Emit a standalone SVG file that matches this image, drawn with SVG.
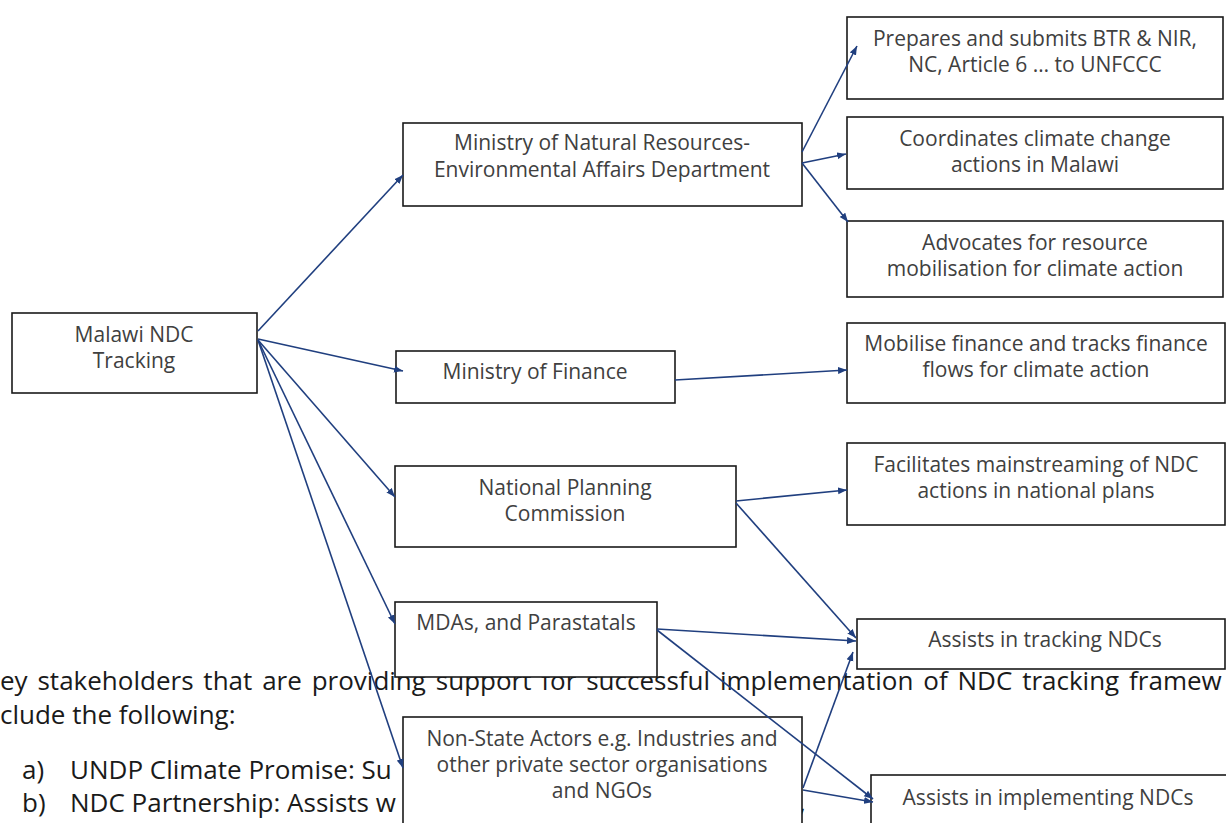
<svg xmlns="http://www.w3.org/2000/svg" width="1226" height="823" viewBox="0 0 1226 823">
<defs>
<style>
.bg{font-family:"Open Sans","Noto Sans","Liberation Sans",sans-serif;font-size:26px;fill:#1a1a1a;}
.box{fill:#ffffff;stroke:#1a1a1a;stroke-width:1.6;}
.lbl{font-family:"Open Sans","Noto Sans","Liberation Sans",sans-serif;font-size:21px;fill:#404040;text-anchor:middle;}
.con{stroke:#203f7f;stroke-width:1.6;fill:none;marker-end:url(#ah);}
</style>
<marker id="ah" markerWidth="10" markerHeight="8" refX="9" refY="4" orient="auto" markerUnits="userSpaceOnUse">
<path d="M0,0.5 L9,4 L0,7.5 z" fill="#203f7f"/>
</marker>
</defs>
<rect x="0" y="0" width="1226" height="823" fill="#ffffff"/>
<g id="background-text">
<text class="bg" x="0" y="690" word-spacing="3.1">ey stakeholders that are providing support for successful implementation of NDC tracking framew</text>
<text class="bg" x="0" y="724">clude the following:</text>
<text class="bg" x="22" y="779">a)</text>
<text class="bg" x="70" y="779">UNDP Climate Promise: Su</text>
<text class="bg" x="22" y="812">b)</text>
<text class="bg" x="70" y="812">NDC Partnership: Assists w</text>
<text class="bg" x="799" y="812">,</text>
</g>
<g id="node-malawi">
<rect class="box" x="12" y="313" width="245" height="80"/>
<text class="lbl" x="134" y="342">Malawi NDC</text>
<text class="lbl" x="134" y="368">Tracking</text>
</g>
<g id="node-ministry-nr">
<rect class="box" x="403" y="123" width="399" height="83"/>
<text class="lbl" x="602" y="150">Ministry of Natural Resources-</text>
<text class="lbl" x="602" y="177">Environmental Affairs Department</text>
</g>
<g id="node-prepares">
<rect class="box" x="847" y="17" width="376" height="82"/>
<text class="lbl" x="1035" y="46">Prepares and submits BTR &amp; NIR,</text>
<text class="lbl" x="1035" y="72">NC, Article 6 … to UNFCCC</text>
</g>
<g id="node-coordinates">
<rect class="box" x="847" y="117" width="376" height="72"/>
<text class="lbl" x="1035" y="146">Coordinates climate change</text>
<text class="lbl" x="1035" y="172">actions in Malawi</text>
</g>
<g id="node-advocates">
<rect class="box" x="847" y="221" width="376" height="76"/>
<text class="lbl" x="1035" y="250">Advocates for resource</text>
<text class="lbl" x="1035" y="276">mobilisation for climate action</text>
</g>
<g id="node-finance">
<rect class="box" x="396" y="351" width="279" height="52"/>
<text class="lbl" x="535" y="379">Ministry of Finance</text>
</g>
<g id="node-mobilise">
<rect class="box" x="847" y="323" width="378" height="80"/>
<text class="lbl" x="1036" y="351">Mobilise finance and tracks finance</text>
<text class="lbl" x="1036" y="377">flows for climate action</text>
</g>
<g id="node-npc">
<rect class="box" x="395" y="466" width="341" height="81"/>
<text class="lbl" x="565" y="495">National Planning</text>
<text class="lbl" x="565" y="521">Commission</text>
</g>
<g id="node-facilitates">
<rect class="box" x="847" y="443" width="378" height="82"/>
<text class="lbl" x="1036" y="472">Facilitates mainstreaming of NDC</text>
<text class="lbl" x="1036" y="498">actions in national plans</text>
</g>
<g id="node-mdas">
<rect class="box" x="395" y="602" width="262" height="75"/>
<text class="lbl" x="526" y="630">MDAs, and Parastatals</text>
</g>
<g id="node-tracking">
<rect class="box" x="857" y="619" width="368" height="50"/>
<text class="lbl" x="1045" y="647">Assists in tracking NDCs</text>
</g>
<g id="node-nonstate">
<rect class="box" x="403" y="717" width="399" height="120"/>
<text class="lbl" x="602" y="746">Non-State Actors e.g. Industries and</text>
<text class="lbl" x="602" y="772">other private sector organisations</text>
<text class="lbl" x="602" y="798">and NGOs</text>
</g>
<g id="node-implementing">
<rect class="box" x="871" y="775" width="360" height="60"/>
<text class="lbl" x="1048" y="805">Assists in implementing NDCs</text>
</g>
<g id="connectors">
<path class="con" d="M258,331 L403,175"/>
<path class="con" d="M258,339 L403,371"/>
<path class="con" d="M258,340 L395,497"/>
<path class="con" d="M258,340 L395,624"/>
<path class="con" d="M258,340 L403,768"/>
<path class="con" d="M802,152 L857,46"/>
<path class="con" d="M802,163 L846,154"/>
<path class="con" d="M802,163 L848,222"/>
<path class="con" d="M675,380 L847,370"/>
<path class="con" d="M736,501 L847,490"/>
<path class="con" d="M736,503 L856,638"/>
<path class="con" d="M657,629 L856,641"/>
<path class="con" d="M657,630 L873,799"/>
<path class="con" d="M803,788 L853,652"/>
<path class="con" d="M803,790 L873,802"/>
</g>
</svg>
